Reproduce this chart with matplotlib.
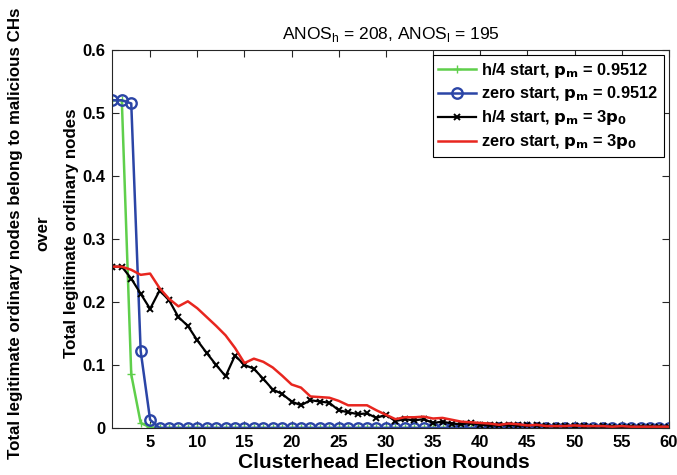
import matplotlib.pyplot as plt

plt.rcParams['font.family'] = ['Liberation Sans', 'DejaVu Sans']

rounds = list(range(1, 61))

# h/4 start, pm = 0.9512
green_vals = [0.520, 0.520, 0.085, 0.008, 0.001] + [0.0] * 55
# zero start, pm = 0.9512
blue_vals = [0.520, 0.520, 0.515, 0.122, 0.013] + [0.0] * 55
# h/4 start, pm = 3p0
black_vals = [
    0.256, 0.256, 0.237, 0.213, 0.189, 0.218, 0.203, 0.176, 0.162, 0.139,
    0.119, 0.100, 0.082, 0.115, 0.100, 0.094, 0.078, 0.061, 0.054, 0.042,
    0.036, 0.044, 0.042, 0.040, 0.028, 0.025, 0.022, 0.023, 0.016, 0.021,
    0.011, 0.014, 0.012, 0.014, 0.008, 0.010, 0.007, 0.006, 0.008, 0.005,
    0.004, 0.004, 0.005, 0.004, 0.004, 0.005, 0.003, 0.003, 0.003, 0.003,
    0.003, 0.002, 0.003, 0.002, 0.002, 0.002, 0.002, 0.002, 0.002, 0.002,
]
# zero start, pm = 3p0
red_vals = [
    0.256, 0.256, 0.251, 0.243, 0.245, 0.222, 0.205, 0.193, 0.201, 0.190,
    0.176, 0.162, 0.147, 0.127, 0.103, 0.110, 0.105, 0.096, 0.083, 0.069,
    0.064, 0.050, 0.049, 0.048, 0.043, 0.036, 0.036, 0.036, 0.028, 0.021,
    0.014, 0.017, 0.017, 0.018, 0.015, 0.016, 0.013, 0.010, 0.009, 0.008,
    0.007, 0.005, 0.007, 0.006, 0.004, 0.005, 0.003, 0.003, 0.003, 0.004,
    0.003, 0.003, 0.003, 0.002, 0.003, 0.002, 0.002, 0.002, 0.002, 0.002,
]

fig = plt.figure(figsize=(6.77, 4.75), dpi=100)
ax = fig.add_axes([0.166, 0.099, 0.822, 0.796])

ax.plot(rounds, green_vals, color='#5fcf4b', marker='+', markersize=6,
        linewidth=1.8, label='h/4 start, $\\mathbf{p_m}$ = 0.9512')
ax.plot(rounds, blue_vals, color='#2b45a6', marker='o', markersize=7.5,
        markerfacecolor='none', markeredgewidth=1.7, linewidth=1.8,
        label='zero start, $\\mathbf{p_m}$ = 0.9512')
ax.plot(rounds, black_vals, color='black', marker='x', markersize=4.5,
        markeredgewidth=1.4, linewidth=1.6,
        label='h/4 start, $\\mathbf{p_m}$ = 3$\\mathbf{p_0}$')
ax.plot(rounds, red_vals, color='#e8261f', linewidth=1.8,
        label='zero start, $\\mathbf{p_m}$ = 3$\\mathbf{p_0}$')

ax.set_xlim(1, 60)
ax.set_ylim(0, 0.6)
ax.set_xticks(range(5, 61, 5))
ax.set_yticks([0, 0.1, 0.2, 0.3, 0.4, 0.5, 0.6])
ax.set_yticklabels(['0', '0.1', '0.2', '0.3', '0.4', '0.5', '0.6'])
ax.tick_params(direction='in', top=True, right=True, length=5,
               color='#262626', labelsize=12, pad=5)
for lab in ax.get_xticklabels() + ax.get_yticklabels():
    lab.set_fontweight('bold')
for sp in ax.spines.values():
    sp.set_color('#262626')
    sp.set_linewidth(0.8)

ax.set_title('ANOS$_\\mathregular{h}$ = 208, ANOS$_\\mathregular{l}$ = 195',
             fontsize=12.5, pad=8)
ax.set_xlabel('Clusterhead Election Rounds', fontsize=15,
              fontweight='bold', labelpad=4)
ax.xaxis.set_label_coords(0.487, -0.065)
ax.set_ylabel('Total legitimate ordinary nodes belong to malicious CHs\n'
              'over\nTotal legitimate ordinary nodes',
              fontsize=12.2, fontweight='bold', linespacing=2.1)
ax.yaxis.set_label_coords(-0.06, 0.515)

leg = ax.legend(loc='upper right',
                prop={'weight': 'bold', 'size': 11.8},
                fancybox=False, edgecolor='black', framealpha=1,
                borderaxespad=0.3, handlelength=2.3, handletextpad=0.3,
                labelspacing=0.3, borderpad=0.35)
leg.get_frame().set_linewidth(0.8)

fig.savefig('out.png', dpi=100)
